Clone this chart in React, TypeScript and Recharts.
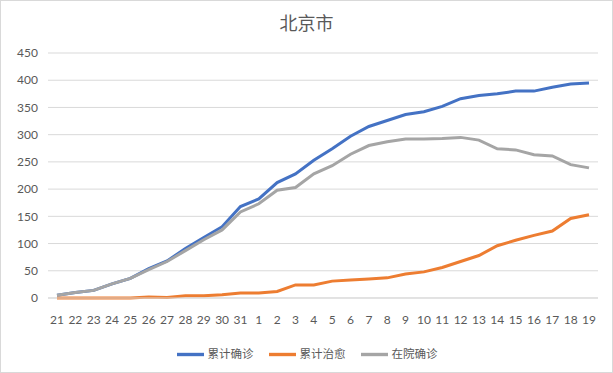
import React from "react";
import { CartesianGrid, Legend, Line, LineChart, XAxis, YAxis } from "recharts";

const days = ["21", "22", "23", "24", "25", "26", "27", "28", "29", "30", "31", "1", "2", "3", "4", "5", "6", "7", "8", "9", "10", "11", "12", "13", "14", "15", "16", "17", "18", "19"];
const confirmed = [5, 10, 14, 26, 36, 54, 68, 91, 111, 131, 168, 182, 212, 228, 253, 274, 297, 315, 326, 337, 342, 352, 366, 372, 375, 380, 380, 387, 393, 395];
const cured = [0, 0, 0, 0, 0, 2, 1, 4, 4, 6, 9, 9, 12, 24, 24, 31, 33, 35, 37, 44, 48, 56, 67, 78, 96, 106, 115, 123, 146, 153];
const inHospital = [5, 10, 14, 26, 36, 52, 67, 87, 107, 125, 158, 173, 198, 203, 228, 243, 264, 280, 287, 292, 292, 293, 295, 290, 274, 272, 263, 261, 245, 239];
const yTicks = [0, 50, 100, 150, 200, 250, 300, 350, 400, 450];

const data = days.map((d, i) => ({
  day: d,
  confirmed: confirmed[i],
  cured: cured[i],
  inHospital: inHospital[i],
}));

const FONT = "Lato, 'Noto Sans CJK SC', sans-serif";
const TEXT = "#595959";

export default function App() {
  return (
    <div
      style={{
        position: "absolute",
        left: 0,
        top: 0,
        width: 611,
        height: 371,
        border: "1px solid #D9D9D9",
        background: "#fff",
        fontFamily: FONT,
      }}
    >
      <div
        style={{
          position: "absolute",
          top: 8,
          left: 0,
          width: 611,
          textAlign: "center",
          fontSize: 18,
          color: TEXT,
          fontFamily: "'Noto Sans CJK SC', sans-serif",
        }}
      >
        北京市
      </div>
      <LineChart
        width={611}
        height={371}
        data={data}
        margin={{ top: 52, right: 14, left: 0, bottom: 4 }}
        style={{ position: "absolute", top: 0, left: 0 }}
      >
        <CartesianGrid vertical={false} stroke="#D9D9D9" strokeWidth={1} />
        <XAxis
          dataKey="day"
          interval={0}
          axisLine={{ stroke: "#D9D9D9" }}
          tickLine={false}
          tick={{ fill: TEXT, fontSize: 12, fontFamily: FONT }}
          tickMargin={11}
          padding={{ left: 9, right: 9 }}
          height={30}
        />
        <YAxis
          domain={[0, 450]}
          ticks={yTicks}
          axisLine={false}
          tickLine={false}
          tickSize={0}
          tickMargin={10}
          width={47}
          tick={{ fill: TEXT, fontSize: 12, fontFamily: FONT }}
        />
        <Legend
          verticalAlign="bottom"
          iconType="plainline"
          iconSize={27}
          itemSorter="dataKey"
          wrapperStyle={{
            fontSize: 11.5,
            fontFamily: "'Noto Sans CJK SC', sans-serif",
            paddingTop: 13,
            left: 8,
            width: 611,
          }}
          formatter={(value) => <span style={{ color: TEXT, marginRight: 5 }}>{value}</span>}
        />
        <Line
          type="linear"
          dataKey="confirmed"
          name="累计确诊"
          stroke="#4472C4"
          strokeWidth={3}
          dot={false}
          isAnimationActive={false}
        />
        <Line
          type="linear"
          dataKey="cured"
          name="累计治愈"
          stroke="#ED7D31"
          strokeWidth={3}
          dot={false}
          isAnimationActive={false}
        />
        <Line
          type="linear"
          dataKey="inHospital"
          name="在院确诊"
          stroke="#A5A5A5"
          strokeWidth={3}
          dot={false}
          isAnimationActive={false}
        />
      </LineChart>
    </div>
  );
}
